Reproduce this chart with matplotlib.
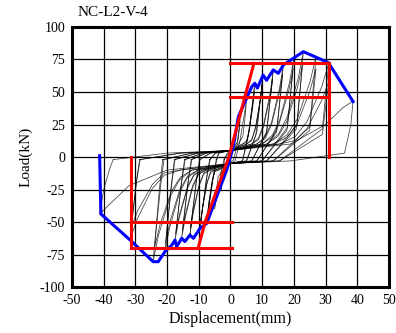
import matplotlib
matplotlib.use("Agg")
import matplotlib.pyplot as plt

plt.rcParams['font.family'] = ['Liberation Serif', 'DejaVu Serif']
plt.rcParams['axes.unicode_minus'] = False

# ----------------------------
# Data
# ----------------------------
# hysteresis loops (displacement mm, load kN), one pair of lists per cycle
loops_x = [
    [-2, -1, 0, 1.5, 2.3, 2.8, 3, 2, 1, 0, -1.5, -2.3, -2.8, -3, -2, -2],
    [-2, -1, 0, 2.5, 3.9, 4.65, 5, 3, 1.5, 0, -2.5, -3.9, -4.65, -5, -3, -2],
    [-4.5, -3.75, 0, 3.85, 5.08, 6.0, 7.16, 7.7, 5.7, 3.85, 0, -3.75, -4.95, -5.85, -6.98, -7.5, -5.5, -4.5],
    [-4.3, -3.65, 0, 3.75, 4.95, 5.85, 6.98, 7.5, 5.5, 3.75, 0, -3.65, -4.82, -5.7, -6.8, -7.3, -5.3, -4.3],
    [-6.6, -4.8, 0, 5.15, 6.8, 8.0, 9.6, 10.3, 8.3, 5.15, 0, -4.8, -6.34, -7.5, -8.9, -9.6, -7.6, -6.6],
    [-6.4, -4.7, 0, 5, 6.6, 7.8, 9.3, 10, 8, 5, 0, -4.7, -6.2, -7.3, -8.7, -9.4, -7.4, -6.4],
    [-9.8, -6.4, 0, 6.75, 8.9, 10.5, 12.6, 13.5, 11.5, 6.75, 0, -6.4, -8.45, -10, -11.9, -12.8, -10.8, -9.8],
    [-9.6, -6.3, 0, 6.65, 8.78, 10.4, 12.4, 13.3, 11.3, 6.65, 0, -6.3, -8.32, -9.8, -11.7, -12.6, -10.6, -9.6],
    [-12.4, -7.7, 0, 8.35, 11.0, 13, 15.5, 16.7, 14.7, 8.35, 0, -7.7, -10.16, -12, -14.3, -15.4, -13.4, -12.4],
    [-12.2, -7.6, 0, 8.25, 10.9, 12.9, 15.3, 16.5, 14.5, 8.25, 0, -7.6, -10.0, -11.9, -14.1, -15.2, -13.2, -12.2],
    [-14.5, -8.75, 0, 10, 13.2, 15.6, 18.6, 20, 18, 10, 0, -8.75, -11.55, -13.65, -16.3, -17.5, -15.5, -14.5],
    [-14.3, -8.65, 0, 9.9, 13.1, 15.4, 18.4, 19.8, 17.8, 9.9, 0, -8.65, -11.4, -13.5, -16.1, -17.3, -15.3, -14.3],
    [-17.7, -10.35, 0, 11.5, 15.2, 17.9, 21.4, 23, 21, 11.5, 0, -10.35, -13.7, -16.1, -19.25, -20.7, -18.7, -17.7],
    [-17.5, -10.25, 0, 11.4, 15.0, 17.8, 21.2, 22.8, 20.8, 11.4, 0, -10.25, -13.5, -16, -19.1, -20.5, -18.5, -17.5],
    [-21.4, -12.2, 0, 13.5, 17.8, 21.1, 25.1, 27, 25, 13.5, 0, -12.2, -16.1, -19, -22.7, -24.4, -22.4, -21.4],
    [-21, -12, 0, 13.5, 17.8, 21.1, 25.1, 27, 25, 13.5, 0, -12, -15.8, -18.7, -22.3, -24, -22, -21],
    [-28.7, -15.85, 0, 15.5, 20.5, 24.2, 28.8, 31, 29, 15.5, 0, -15.85, -20.9, -24.7, -29.5, -31.7, -29.7, -28.7],
    [-28.5, -15.75, 0, 15.5, 20.5, 24.2, 28.8, 31, 29, 15.5, 0, -15.75, -20.8, -24.6, -29.3, -31.5, -29.5, -28.5],
    [-37, -20, 0, 19, 30, 35.5, 38.7, 38, 36, 19, 0, -20, -32, -38, -41.3, -40, -38, -37],
]
loops_y = [
    [-2, 2, 4, 9, 12, 21, 28, 8, -2, -4, -9, -11, -19, -25, -8, -2],
    [-2, 3, 5, 10, 16, 31.5, 42, 12.6, -3, -5, -10, -15.2, -30, -40, -12, -2],
    [-2, 3, 5, 10, 12.5, 21.7, 42.8, 57, 17.1, -3, -5, -10, -11.2, -19.4, -38.3, -51, -15.3, -2],
    [-2, 3, 5, 10, 11, 19, 37.5, 50, 15, -3, -5, -10, -10.1, -17.5, -34.5, -46, -13.8, -2],
    [-2, 3, 5, 10, 13.9, 24, 47, 63, 19, -3, -5, -10, -12.1, -21, -41, -55, -16.5, -2],
    [-2, 3, 5, 10, 12.3, 21, 42, 56, 17, -3, -5, -10, -10.8, -18.6, -36.8, -49, -14.7, -2],
    [-2, 3, 5, 10, 14.7, 25.5, 50, 67, 20, -3, -5, -10, -13.2, -22.8, -45, -60, -18, -2],
    [-2, 3, 5, 10, 13.2, 22.8, 45, 60, 18, -3, -5, -10, -11.9, -20.5, -40.5, -54, -16.2, -2],
    [-2, 3, 5, 10, 15.6, 27, 53, 71, 21, -3, -5, -10, -13.75, -23.8, -47, -62.5, -18.8, -2],
    [-2, 3, 5, 10, 14.1, 24.3, 48, 64, 19, -3, -5, -10, -12.5, -21.7, -42.8, -57, -17, -2],
    [-2, 3, 5, 10, 16.7, 28.9, 57, 76, 22.8, -3, -5, -10, -14.1, -24.3, -48, -64, -19.2, -2],
    [-2, 3, 5, 10, 15, 25.8, 51, 68, 20.4, -3, -5, -10, -13, -22.4, -44.3, -59, -17.7, -2],
    [-2, 3, 5, 10, 17.8, 30.8, 60.8, 81, 24.3, -3, -5, -10, -16.1, -27.7, -54.8, -73, -21.9, -2],
    [-2, 3, 5, 10, 15.8, 27.4, 54, 72, 21.6, -3, -5, -10, -14.5, -25.1, -49.5, -66, -19.8, -2],
    [-2, 3, 5, 10, 16.9, 29.3, 57.8, 77, 23.1, -3, -5, -10, -17.6, -30.4, -60, -80, -24, -2],
    [-2, 3, 5, 10, 15, 25.8, 51, 68, 20.4, -3, -5, -10, -15.4, -26.6, -52.5, -70, -21, -2],
    [-2, 3, 5, 10, 15.8, 27.4, 54, 72, 21.6, -3, -5, -10, -14.1, -24.3, -48, -64, -19.2, -2],
    [-2, 3, 5, 10, 12.8, 22, 43.5, 58, 17.4, -3, -5, -10, -12.1, -20.9, -41.3, -55, -16.5, -2],
    [-2, 3, 5, 10, 25, 38, 43, 25, 3, -3, -5, -10, -22, -36, -44, -25, -8, -2],
]

# skeleton (envelope) curve
env_x = [-41.3, -40.9, -31.7, -24.4, -22.8, -20.7, -18.5, -17.5, -17, -15.4, -14.4,
         -12.8, -11.7, -9.6, -7.5, -1.2, 0.9, 2.5, 6.7, 7.7, 8.5, 10.3, 11.4, 13.5,
         15.1, 16.7, 23.0, 30.9, 38.7]
env_y = [1, -43.8, -63.8, -80.5, -80.5, -72.8, -67.7, -63.8, -69, -62.5, -65,
         -60, -62.5, -54.8, -51, -10, 8, 31, 54, 56.7, 53, 63, 59, 67,
         64.4, 70.8, 81, 72.6, 42.6]

# idealised (bilinear) red lines
diag_x = [-10.2, -8.0, -0.5, 4.3, 7.4]
diag_y = [-70, -50, 0, 44, 72]
pos_disp = 31
pos_levels = [72, 46]
neg_disp = -31.5
neg_levels = [-50, -70]

# ----------------------------
# Plot
# ----------------------------
fig = plt.figure(figsize=(3.96, 3.33), dpi=100)
ax = fig.add_axes([0.182, 0.138, 0.8, 0.781])

for lx, ly in zip(loops_x, loops_y):
    ax.plot(lx, ly, color='black', lw=0.55, alpha=0.75, zorder=3)

ax.plot(env_x, env_y, color='blue', lw=2.2, zorder=4)

red = dict(color='red', lw=2.2, zorder=5)
ax.plot(diag_x, diag_y, **red)
for lv in pos_levels:
    ax.plot([0, pos_disp], [lv, lv], **red)
ax.plot([pos_disp, pos_disp], [0, max(pos_levels)], **red)
for lv in neg_levels:
    ax.plot([neg_disp, 0.5], [lv, lv], **red)
ax.plot([neg_disp, neg_disp], [0, min(neg_levels)], **red)

ax.set_xlim(-50, 50)
ax.set_ylim(-100, 100)
ax.set_xticks(range(-50, 51, 10))
ax.set_yticks(range(-100, 101, 25))
ax.grid(True, color='black', lw=0.9)
ax.set_axisbelow(True)
ax.tick_params(length=0, labelsize=10, pad=5)
for s in ax.spines.values():
    s.set_linewidth(2.2)

ax.set_xlabel('Displacement(mm)', fontsize=11.5, labelpad=3)
ax.set_ylabel('Load(kN)', fontsize=11, labelpad=5)
fig.text(0.195, 0.962, 'NC-L2-V-4', fontsize=11, va='center', ha='left')

plt.savefig("out.png", dpi=100)
plt.close()
